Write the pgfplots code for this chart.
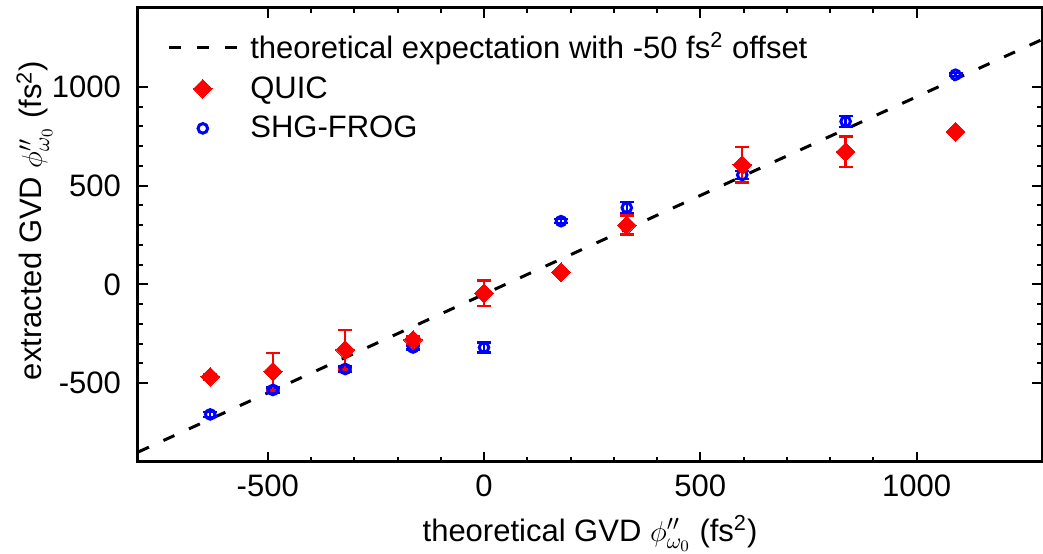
\documentclass[border=0pt]{standalone}
\usepackage{pgfplots}
\usepackage{pgfplotstable}
\pgfplotsset{compat=1.18}
\usepackage{fontspec}
\setmainfont{Liberation Sans}
\definecolor{qred}{RGB}{255,0,0}
\definecolor{sblue}{RGB}{0,0,255}

\pgfplotsset{
  lineleg/.style={legend image code/.code={\draw[##1] (0pt,0pt) -- (34pt,0pt);}},
  markleg/.style={legend image code/.code={\draw[mark repeat=2,mark phase=2,##1] plot coordinates {(0pt,0pt) (17pt,0pt) (34pt,0pt)};}},
}

\pgfplotstableread{
x y e
-633 -468 15
-488 -442 95
-321 -332 100
-164 -281 20
0 -45 65
178 61 0
330 300 48
597 605 90
836 671 77
1090 773 0
}\quic

\pgfplotstableread{
x y e
-633 -659 12
-488 -535 12
-321 -429 12
-164 -320 10
0 -320 25
178 320 10
330 388 28
597 554 20
836 825 28
1090 1062 8
}\shg

\begin{document}
\begin{tikzpicture}
\begin{axis}[
  scale only axis,
  width=452pt, height=227pt,
  xmin=-800, xmax=1290, ymin=-900, ymax=1400,
  xtick={-500,0,500,1000}, ytick={-500,0,500,1000},
  minor x tick num=4, minor y tick num=4,
  tick align=inside,
  major tick length=5pt, minor tick length=2.5pt,
  every tick/.style={black, line width=1pt},
  axis line style={line width=1.5pt},
  font=\fontsize{15.5}{18}\selectfont,
  /pgf/number format/assume math mode=true,
  /pgf/number format/1000 sep={},
  xticklabel style={yshift=-3pt},
  yticklabel style={xshift=-5pt},
  xlabel={theoretical GVD $\phi''_{\omega_0}$ (fs\textsuperscript{2})},
  ylabel={extracted GVD $\phi''_{\omega_0}$ (fs\textsuperscript{2})},
  xlabel style={at={(axis description cs:0.5,-0.175)}, anchor=base},
  ylabel style={at={(axis description cs:-0.1062,0.532)}, anchor=base},
  legend style={at={(axis description cs:0.032,0.955)}, anchor=north west, draw=none, fill=none, inner sep=0pt, row sep=3.5pt, column sep=4pt, font=\fontsize{15.5}{18}\selectfont},
  legend cell align=left,
]
\addplot[black, line width=1.5pt, dash pattern=on 6pt off 8pt, lineleg]
  coordinates {(-800,-850) (1290,1240)};
\addlegendentry{theoretical expectation with -50 fs\textsuperscript{2} offset}

\addplot[sblue, only marks, mark=o, mark size=2.4pt, mark options={line width=1.5pt, sblue},
  forget plot,
  error bars/.cd, y dir=both, y explicit,
  error bar style={line width=1.2pt, sblue},
  error mark options={rotate=90, mark size=3.5pt, line width=1.2pt, sblue}]
  table[x=x, y=y, y error=e] {\shg};

\addplot[qred, only marks, mark=square*, mark size=3.3pt, mark options={rotate=45, fill=qred, draw=qred, line width=0pt}, markleg,
  error bars/.cd, y dir=both, y explicit,
  error bar style={line width=1.2pt, qred},
  error mark options={rotate=90, mark size=3.5pt, line width=1.2pt, qred}]
  table[x=x, y=y, y error=e] {\quic};
\addlegendentry{QUIC}

\addlegendimage{sblue, only marks, mark=o, mark size=2.4pt, mark options={line width=1.5pt, sblue}, markleg}
\addlegendentry{SHG-FROG}
\end{axis}
\pgfresetboundingbox
\path[use as bounding box] ([xshift=-69pt,yshift=-46pt]current axis.south west) rectangle ([xshift=0.5pt,yshift=4pt]current axis.north east);
\end{tikzpicture}
\end{document}
